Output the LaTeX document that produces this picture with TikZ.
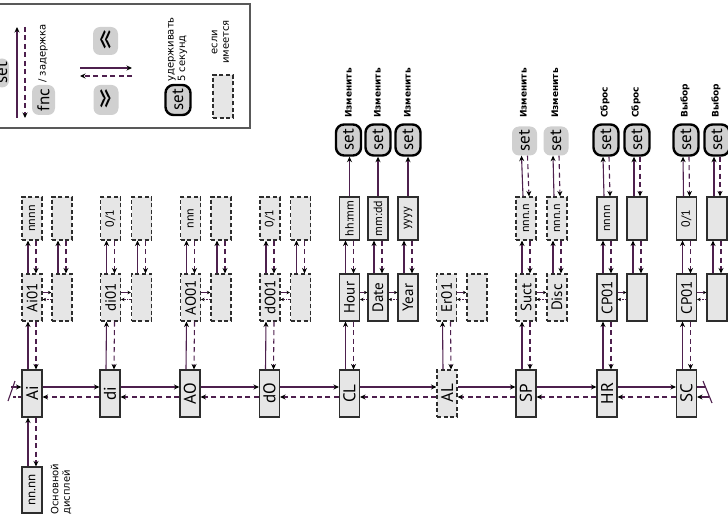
\documentclass[tikz,border=0pt]{standalone}
\usepackage{graphicx}
\usepackage{fontspec}
\setmainfont{PT Sans}
\newfontfamily\cf{PT Sans}
\newfontfamily\dv{DejaVu Sans}
\usetikzlibrary{arrows.meta}
\definecolor{conn}{RGB}{78,32,78}
\definecolor{boxfill}{RGB}{230,230,230}
\definecolor{boxline}{RGB}{45,45,45}
\definecolor{setfill}{RGB}{208,208,208}
\newcommand\rtx[1]{\rotatebox{90}{#1}}
\tikzset{
  bx/.style={draw=boxline, fill=boxfill, line width=1.1pt, minimum width=20pt, minimum height=47pt, inner sep=0pt, font=\cf\fontsize{17}{17}\selectfont},
  dbx/.style={bx, dash pattern=on 4pt off 2.6pt},
  tbx/.style={bx, minimum height=43pt, font=\cf\fontsize{12}{12}\selectfont},
  dtbx/.style={tbx, dash pattern=on 4pt off 2.6pt},
  setk/.style={draw=black, fill=setfill, line width=2.4pt, rounded corners=8pt, minimum width=25pt, minimum height=31pt, inner sep=0pt, font=\cf\fontsize{17}{17}\selectfont},
  setl/.style={fill=setfill, rounded corners=7pt, minimum width=25pt, minimum height=29pt, inner sep=0pt, font=\cf\fontsize{17}{17}\selectfont},
  lbl/.style={rotate=90, anchor=west, inner sep=0pt, font=\dv\bfseries\fontsize{9}{10}\selectfont},
  ltx/.style={rotate=90, inner sep=0pt, font=\dv\fontsize{10}{11.5}\selectfont},
  sol/.style={draw=conn, line width=1.1pt, -{Stealth[length=5.5pt,width=5pt,color=black]}},
  dsh/.style={sol, dash pattern=on 5pt off 3.5pt},
  ssol/.style={draw=conn, line width=0.8pt, -{Stealth[length=3.5pt,width=3.5pt,color=black]}},
  sdsh/.style={ssol, dash pattern=on 1.5pt off 1pt},
  plain/.style={draw=conn, line width=1.1pt},
}
\newcommand\vpair[3]{%
  \draw[sol] ([xshift=-#3pt]#1.north) -- ([xshift=-#3pt]#2.south);
  \draw[dsh] ([xshift=#3pt]#2.south) -- ([xshift=#3pt]#1.north);}
\newcommand\hpair[2]{%
  \draw[sol] ([yshift=6.5pt]#1.east) -- ([yshift=6.5pt]#2.west);
  \draw[dsh] ([yshift=-3.5pt]#2.west) -- ([yshift=-3.5pt]#1.east);}
\newcommand\spair[2]{%
  \draw[ssol] ([yshift=5pt]#1.east) -- ([yshift=5pt]#2.west);
  \draw[sdsh] ([yshift=-2pt]#2.west) -- ([yshift=-2pt]#1.east);}
\begin{document}
\begin{tikzpicture}[x=1pt,y=-1pt]
\useasboundingbox (0,0) rectangle (728,521);
% ---------- legend ----------
\draw[line width=1.3pt, draw=black!65] (-5,4) rectangle (250,128);
\node[setl, minimum width=14pt] (lset) at (2,73) {\rtx{set}};
\coordinate (la1) at (17,118); \coordinate (la2) at (17,27);
\coordinate (lb1) at (25,27); \coordinate (lb2) at (25,118);
\draw[sol] (la1) -- (la2);
\draw[dsh] (lb1) -- (lb2);
\node[setl, minimum width=23pt, minimum height=30pt] (fnc) at (43.5,100) {\rtx{fnc}};
\node[ltx, anchor=west] (delay) at (43,83) {/ задержка};
\node[setl, minimum height=28pt, font=\cf\fontsize{24}{24}\selectfont] (prev) at (105.5,41) {\scalebox{1.1}[1.7]{«}};
\node[setl, minimum height=30pt, font=\cf\fontsize{24}{24}\selectfont] (next) at (106,100) {\scalebox{1.1}[1.7]{»}};
\coordinate (lc1) at (80,68); \coordinate (lc2) at (132,68);
\coordinate (ld1) at (132,76); \coordinate (ld2) at (80,76);
\draw[sol] (lc1) -- (lc2);
\draw[dsh] (ld1) -- (ld2);
\node[setk, minimum height=30pt] (hold) at (178,100) {\rtx{set}};
\node[ltx, anchor=west, align=left] (holdt) at (177.5,82) {удерживать\\5 секунд};
\node[dtbx] (ifx) at (223,96.5) {};
\node[ltx, align=center] (ift) at (220.5,42) {если\\имеется};
% ---------- main row ----------
\node[bx] (ai) at (32,393.5) {\rtx{Ai}};
\node[bx] (di) at (110,393.5) {\rtx{di}};
\node[bx] (ao) at (190,393.5) {\rtx{AO}};
\node[bx] (do) at (269.5,393.5) {\rtx{dO}};
\node[bx] (cl) at (349.5,393.5) {\rtx{CL}};
\node[dbx] (al) at (447,393.5) {\rtx{AL}};
\node[bx] (sp) at (526,393.5) {\rtx{SP}};
\node[bx] (hr) at (607,393.5) {\rtx{HR}};
\node[bx] (sc) at (686.5,393.5) {\rtx{SC}};
\hpair{ai}{di}\hpair{di}{ao}\hpair{ao}{do}\hpair{do}{cl}
\hpair{cl}{al}\hpair{al}{sp}\hpair{sp}{hr}\hpair{hr}{sc}
% wrap marks
\coordinate (wl1) at (11,387); \coordinate (wl2) at (13,397);
\coordinate (wl3) at (8,401); \coordinate (wl4) at (15,381);
\draw[sol] (wl1) -- (ai.west |- wl1);
\draw[plain, dash pattern=on 3pt off 2pt] (ai.west |- wl2) -- (wl2);
\draw[plain] (wl3) -- (wl4);
\coordinate (wr1) at (706,387); \coordinate (wr2) at (709,397);
\coordinate (wr3) at (703,381); \coordinate (wr4) at (712,403);
\draw[plain] (sc.east |- wr1) -- (wr1);
\draw[sol] (wr2) -- (sc.east |- wr2);
\draw[plain] (wr3) -- (wr4);
% main display
\node[bx, minimum height=46pt, font=\cf\fontsize{13}{13}\selectfont] (nn) at (32,490) {\rtx{nn.nn}};
\node[ltx, anchor=west, align=left] (nnt) at (61,515) {Основной\\дисплей};
\vpair{nn}{ai}{4}
% ---------- level 1 ----------
\tikzset{l1/.style={font=\cf\fontsize{15}{15}\selectfont}}
\node[dbx, l1] (ai01) at (32,297.5) {\rtx{Ai01}};
\node[dbx] (ai01b) at (62,297.5) {};
\node[dbx, l1] (di01) at (110.5,297.5) {\rtx{di01}};
\node[dbx] (di01b) at (141.5,297.5) {};
\node[dbx, l1] (ao01) at (190.5,297.5) {\rtx{AO01}};
\node[dbx] (ao01b) at (221,297.5) {};
\node[dbx, l1] (do01) at (270,297.5) {\rtx{dO01}};
\node[dbx] (do01b) at (300.5,297.5) {};
\node[bx, l1] (hour) at (349.5,297.5) {\rtx{Hour}};
\node[bx, l1] (date) at (378,297.5) {\rtx{Date}};
\node[bx, l1] (year) at (408,297.5) {\rtx{Year}};
\node[dbx, l1] (er01) at (446.5,297.5) {\rtx{Er01}};
\node[dbx] (er01b) at (477,297.5) {};
\node[dbx, l1] (suct) at (526,297.5) {\rtx{Suct}};
\node[dbx, l1] (disc) at (557,297.5) {\rtx{Disc}};
\node[bx, l1] (hcp) at (607,297.5) {\rtx{CP01}};
\node[bx] (hcpb) at (637,297.5) {};
\node[bx, l1] (scp) at (686.5,297.5) {\rtx{CP01}};
\node[bx] (scpb) at (717,297.5) {};
\vpair{ai}{ai01}{4}\vpair{di}{di01}{4}\vpair{ao}{ao01}{4}\vpair{do}{do01}{4}
\vpair{cl}{hour}{4}\vpair{al}{er01}{4}\vpair{sp}{suct}{4}\vpair{hr}{hcp}{4}\vpair{sc}{scp}{4}
\spair{ai01}{ai01b}\spair{di01}{di01b}\spair{ao01}{ao01b}\spair{do01}{do01b}
\spair{hour}{date}\spair{date}{year}\spair{er01}{er01b}\spair{suct}{disc}
\spair{hcp}{hcpb}\spair{scp}{scpb}
% ---------- level 2 ----------
\node[dtbx] (ai2) at (32,218.5) {\rtx{nnnn}};
\node[dtbx] (ai2b) at (62,218.5) {};
\node[dtbx] (di2) at (110.5,218.5) {\rtx{0/1}};
\node[dtbx] (di2b) at (141.5,218.5) {};
\node[dtbx] (ao2) at (190.5,218.5) {\rtx{nnn}};
\node[dtbx] (ao2b) at (221,218.5) {};
\node[dtbx] (do2) at (270,218.5) {\rtx{0/1}};
\node[dtbx] (do2b) at (300.5,218.5) {};
\node[tbx] (hhmm) at (349.5,218.5) {\rtx{hh:mm}};
\node[tbx] (mmdd) at (378,218.5) {\rtx{mm:dd}};
\node[tbx] (yyyy) at (408,218.5) {\rtx{yyyy}};
\node[dtbx] (sct2) at (526,218.5) {\rtx{nnn.n}};
\node[dtbx] (dsc2) at (557,218.5) {\rtx{nnn.n}};
\node[tbx] (hr2) at (607,218.5) {\rtx{nnnn}};
\node[tbx] (hr2b) at (637,218.5) {};
\node[tbx] (sc2) at (686.5,218.5) {\rtx{0/1}};
\node[tbx] (sc2b) at (717,218.5) {};
\vpair{ai01}{ai2}{4}\vpair{ai01b}{ai2b}{4}\vpair{di01}{di2}{4}\vpair{di01b}{di2b}{4}
\vpair{ao01}{ao2}{4}\vpair{ao01b}{ao2b}{4}\vpair{do01}{do2}{4}\vpair{do01b}{do2b}{4}
\vpair{hour}{hhmm}{4}\vpair{date}{mmdd}{4}\vpair{year}{yyyy}{4}
\vpair{suct}{sct2}{4}\vpair{disc}{dsc2}{4}
\vpair{hcp}{hr2}{4}\vpair{hcpb}{hr2b}{4}\vpair{scp}{sc2}{4}\vpair{scpb}{sc2b}{4}
% ---------- set buttons ----------
\node[setk] (s1) at (348.5,140) {\rtx{set}};
\node[setk] (s2) at (378,140) {\rtx{set}};
\node[setk] (s3) at (408,140) {\rtx{set}};
\node[setl] (s4) at (524.5,141) {\rtx{set}};
\node[setl] (s5) at (556,141) {\rtx{set}};
\node[setk] (s6) at (606,140) {\rtx{set}};
\node[setk] (s7) at (637,140) {\rtx{set}};
\node[setk] (s8) at (686,140) {\rtx{set}};
\node[setk] (s9) at (717,140) {\rtx{set}};
\draw[sol] (hhmm.north) -- (hhmm.north |- s1.south);
\draw[sol] (mmdd.north) -- (mmdd.north |- s2.south);
\draw[sol] (yyyy.north) -- (yyyy.north |- s3.south);
\vpair{sct2}{s4}{3}\vpair{dsc2}{s5}{3}
\vpair{hr2}{s6}{3}\vpair{hr2b}{s7}{3}\vpair{sc2}{s8}{3}\vpair{sc2b}{s9}{3}
% labels
\node[lbl] (t1) at (348.5,118) {Изменить};
\node[lbl] (t2) at (377.5,118) {Изменить};
\node[lbl] (t3) at (407.5,118) {Изменить};
\node[lbl] (t4) at (523.5,118) {Изменить};
\node[lbl] (t5) at (555,118) {Изменить};
\node[lbl] (t6) at (605,118) {Сброс};
\node[lbl] (t7) at (636,118) {Сброс};
\node[lbl] (t8) at (685,118) {Выбор};
\node[lbl] (t9) at (716,118) {Выбор};
\end{tikzpicture}
\end{document}
